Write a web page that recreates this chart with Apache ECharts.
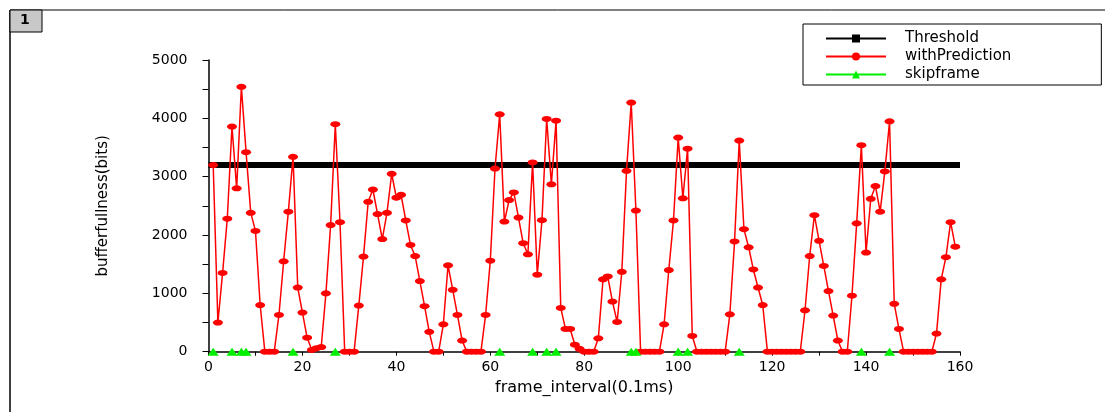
<!DOCTYPE html>
<html>
<head>
<meta charset="utf-8">
<script src="https://cdn.jsdelivr.net/npm/echarts@6.0.0/dist/echarts.min.js"></script>
<style>
html,body{margin:0;padding:0;background:#fff;}
#chart{width:1105px;height:412px;}
</style>
</head>
<body>
<div id="chart"></div>
<script>
// frame index of the first buffer sample
const firstFrame = 1;
// buffer fullness (bits) with prediction, frames 1..159
const withPrediction = [
  3200, 500, 1350, 2280, 3860, 2800, 4540, 3420, 2380, 2070,
  800, 0, 0, 0, 630, 1550, 2400, 3340, 1100, 670,
  240, 30, 60, 80, 1000, 2170, 3900, 2220, 0, 0,
  0, 790, 1630, 2570, 2780, 2360, 1930, 2380, 3050, 2640,
  2690, 2250, 1830, 1640, 1210, 780, 340, 0, 0, 470,
  1480, 1060, 630, 190, 0, 0, 0, 0, 630, 1560,
  3140, 4070, 2230, 2600, 2730, 2300, 1860, 1670, 3245, 1320,
  2255, 3990, 2870, 3960, 750, 390, 390, 120, 50, 0,
  0, 0, 230, 1240, 1290, 860, 510, 1370, 3100, 4270,
  2420, 0, 0, 0, 0, 0, 470, 1400, 2250, 3670,
  2630, 3480, 270, 0, 0, 0, 0, 0, 0, 0,
  640, 1890, 3620, 2100, 1790, 1410, 1100, 800, 0, 0,
  0, 0, 0, 0, 0, 0, 710, 1640, 2340, 1900,
  1470, 1040, 620, 190, 0, 0, 960, 2200, 3540, 1700,
  2620, 2840, 2400, 3090, 3950, 820, 390, 0, 0, 0,
  0, 0, 0, 0, 310, 1240, 1620, 2220, 1800
];
// frames where a frame was skipped (drawn at 0)
const skipFrames = [1, 5, 7, 8, 18, 27, 62, 69, 72, 74, 90, 91, 100, 102, 113, 139, 145];
const thresholdValue = 3200;
const thresholdRange = [0, 160];
const xTickLabels = [0, 20, 40, 60, 80, 100, 120, 140, 160];
const yTickLabels = [0, 1000, 2000, 3000, 4000, 5000];

const predData = withPrediction.map((v, i) => [firstFrame + i, v]);
const skipData = [];
for (let f = thresholdRange[0]; f <= thresholdRange[1]; f++) {
  skipData.push(skipFrames.indexOf(f) >= 0 ? [f, 0] : [f, null]);
}
const thrData = thresholdRange.map(x => [x, thresholdValue]);

const font = 'DejaVu Sans';
const chart = echarts.init(document.getElementById('chart'));
chart.setOption({
  animation: false,
  backgroundColor: '#ffffff',
  grid: {left: 208.5, right: 145, top: 60, bottom: 60.3},
  xAxis: {
    type: 'value', min: 0, max: 160, interval: 10,
    name: 'frame_interval(0.1ms)', nameLocation: 'middle', nameGap: 27,
    nameTextStyle: {fontFamily: font, fontSize: 16, color: '#000'},
    axisLine: {lineStyle: {color: '#000', width: 1.5}},
    axisTick: {inside: false, length: 4, lineStyle: {color: '#000', width: 1}},
    axisLabel: {fontFamily: font, fontSize: 14, color: '#000', margin: 9,
      formatter: v => xTickLabels.indexOf(v) >= 0 ? String(v) : ''},
    splitLine: {show: false}
  },
  yAxis: {
    type: 'value', min: 0, max: 5000, interval: 500,
    name: 'bufferfullness(bits)', nameLocation: 'middle', nameGap: 98,
    nameTextStyle: {fontFamily: font, fontSize: 15, color: '#000'},
    axisLine: {show: true, lineStyle: {color: '#000', width: 1.5}},
    axisTick: {show: true, inside: false, length: 6, lineStyle: {color: '#000', width: 1}},
    axisLabel: {fontFamily: font, fontSize: 14, color: '#000', margin: 21,
      formatter: v => yTickLabels.indexOf(v) >= 0 ? String(v) : ''},
    splitLine: {show: false}
  },
  legend: {
    orient: 'vertical', left: 803, top: 24,
    padding: [7, 90, 3, 22],
    itemWidth: 60, itemHeight: 10, itemGap: 3,
    borderColor: '#000', borderWidth: 1, backgroundColor: '#fff',
    textStyle: {fontFamily: font, fontSize: 15, color: '#000', padding: [0, 0, 0, 14]},
    data: ['Threshold', 'withPrediction', 'skipframe']
  },
  graphic: [
    {type: 'line', shape: {x1: 10, y1: 10, x2: 1105, y2: 10}, style: {stroke: '#000', lineWidth: 1}, silent: true},
    {type: 'line', shape: {x1: 10, y1: 10, x2: 10, y2: 412}, style: {stroke: '#000', lineWidth: 1.5}, silent: true},
    {type: 'rect', shape: {x: 10, y: 10, width: 32, height: 22}, style: {fill: '#c8c8c8', stroke: '#000', lineWidth: 1}, silent: true},
    {type: 'text', left: 20, top: 13, style: {text: '1', font: 'bold 14px "DejaVu Sans"', fill: '#000'}, silent: true}
  ],
  series: [
    {
      name: 'Threshold', type: 'line', data: thrData,
      symbol: 'rect', symbolSize: 9, showSymbol: false,
      lineStyle: {color: '#000', width: 6}, itemStyle: {color: '#000'}, z: 2
    },
    {
      name: 'withPrediction', type: 'line', data: predData,
      symbol: 'circle', symbolSize: [10, 6],
      lineStyle: {color: '#ff0000', width: 1.5}, itemStyle: {color: '#ff0000'}, z: 3
    },
    {
      name: 'skipframe', type: 'line', data: skipData, connectNulls: false,
      symbol: 'triangle', symbolSize: [11, 8],
      lineStyle: {color: '#00ee00', width: 1}, itemStyle: {color: '#00ee00'}, z: 4
    }
  ]
});
</script>
</body>
</html>
